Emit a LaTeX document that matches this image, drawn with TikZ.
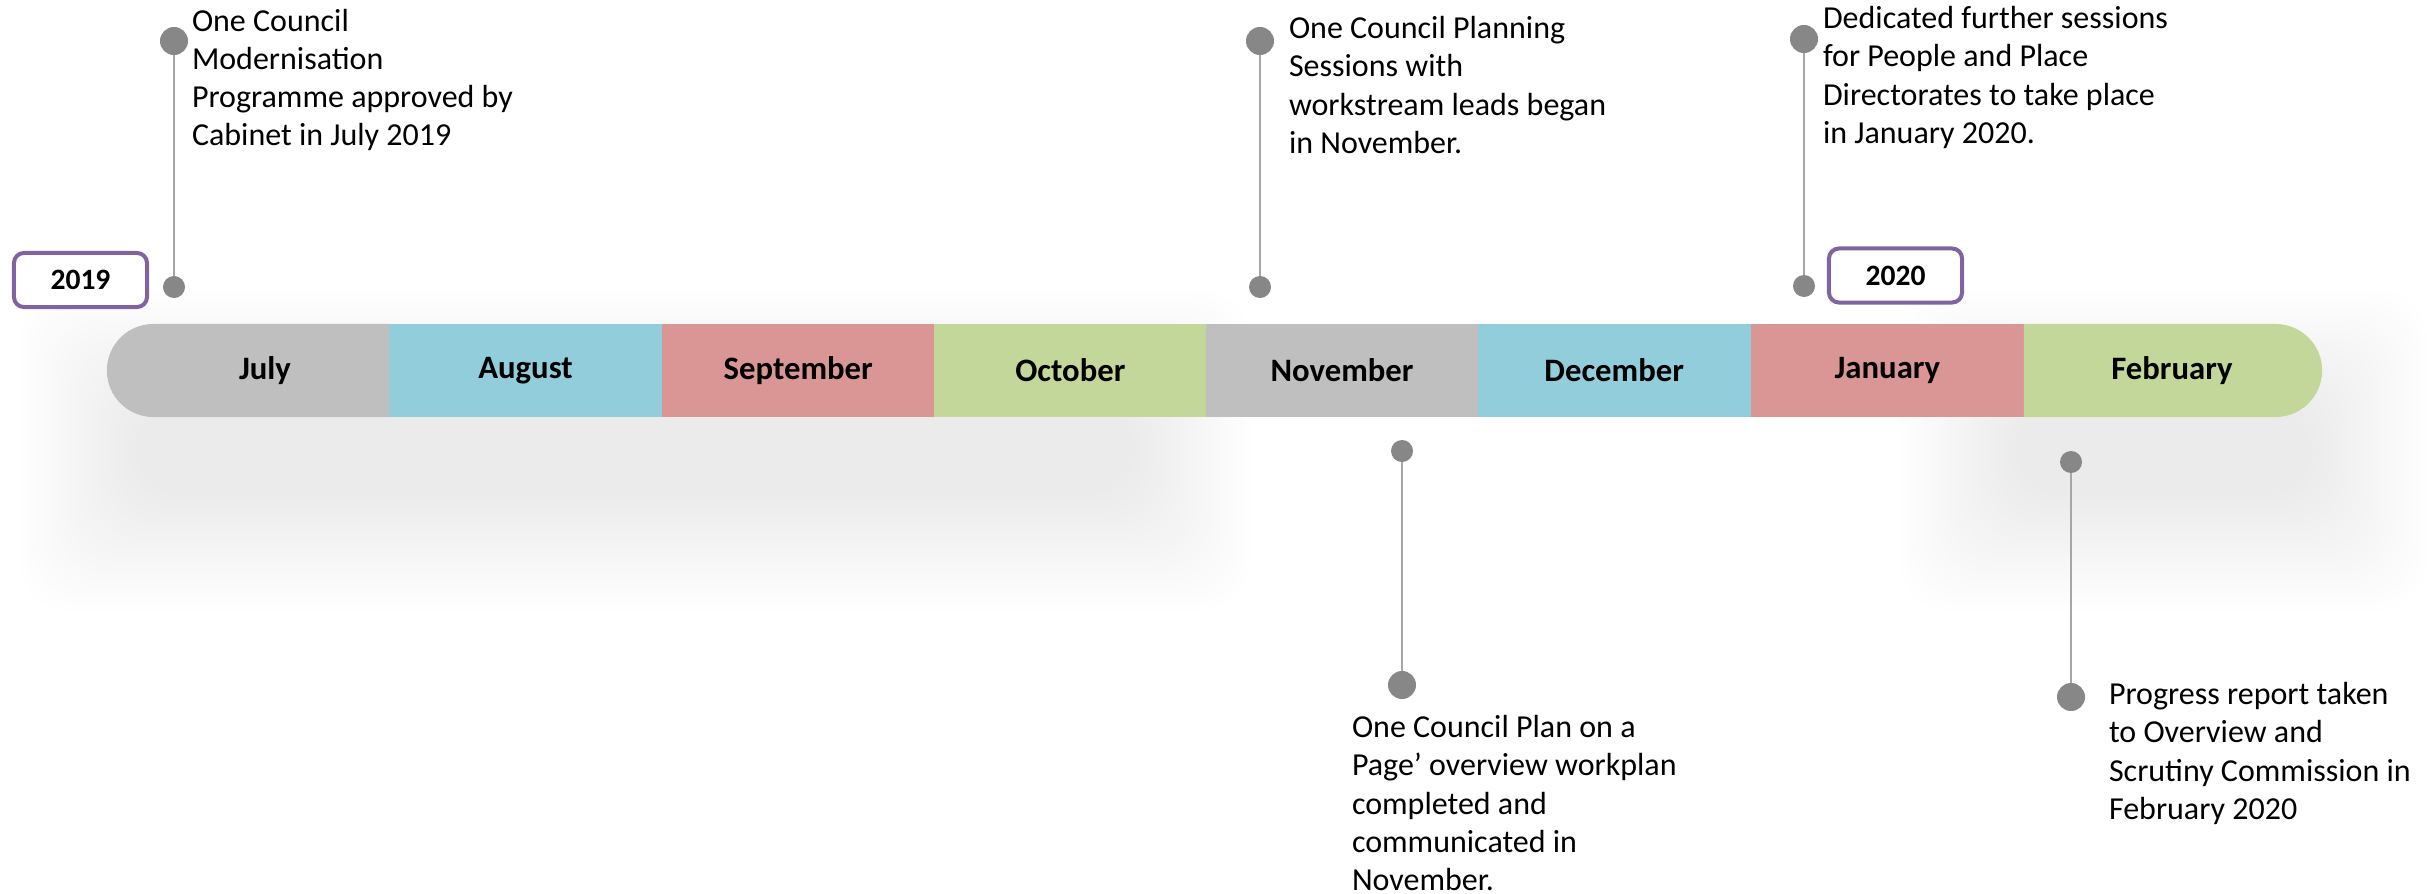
\documentclass[tikz,border=0pt]{standalone}
\usepackage{fontspec}
\setmainfont{Carlito}
\usetikzlibrary{shapes.misc}

\definecolor{bargray}{HTML}{BFBFBF}
\definecolor{barblue}{HTML}{92CDDC}
\definecolor{barred}{HTML}{DA9694}
\definecolor{bargreen}{HTML}{C4D79B}
\definecolor{yearpurple}{HTML}{8064A2}
\definecolor{dotgray}{HTML}{878787}
\definecolor{stemgray}{HTML}{A6A6A6}

\newcommand{\notefont}{\fontsize{9.1}{10.87}\selectfont}
\newcommand{\monthfont}{\fontsize{9.3}{11}\selectfont\bfseries}
\newcommand{\yearfont}{\fontsize{8.4}{10}\selectfont\bfseries}

\begin{document}
\begin{tikzpicture}[x=0.01cm,y=-0.01cm]
        \tikzstyle{every node}+=[inner sep=0pt, outer sep=0pt]
        \tikzstyle{month}=[rectangle, minimum width=2.73cm, minimum height=0.93cm, font=\monthfont]
        \tikzstyle{bigdot}=[circle, fill=dotgray, minimum size=0.28cm]
        \tikzstyle{smalldot}=[circle, fill=dotgray, minimum size=0.22cm]
        \tikzstyle{stem}=[stemgray, line width=0.02cm]
        \tikzstyle{note}=[anchor=north west, align=left, font=\notefont]
        \tikzstyle{yearbox}=[draw=yearpurple, fill=white, line width=0.04cm, rounded corners=0.1cm, minimum width=1.33cm, minimum height=0.54cm, font=\yearfont]
        \useasboundingbox (0,0) rectangle (2427,894);
        \foreach \i in {0,...,19} {
          \fill [black, opacity=0.005, rounded corners=0.5cm] ({20+6*\i},{290+6*\i}) rectangle ({1250-6*\i},{610-6*\i});
          \fill [black, opacity=0.005, rounded corners=0.5cm] ({1900+6*\i},{290+6*\i}) rectangle ({2427-6*\i},{610-6*\i});
        }
        \node [month, rounded rectangle, rounded rectangle right arc=none, minimum width=2.82cm, fill=bargray] (jul) at (249,370.5) {\hspace{0.32cm}July};
        \node [month, fill=barblue, anchor=west] (aug) at (jul.east) {August};
        \node [month, fill=barred, anchor=west, minimum width=2.72cm] (sep) at (aug.east) {September};
        \node [month, fill=bargreen, anchor=west, minimum width=2.72cm] (oct) at (sep.east) {October};
        \node [month, fill=bargray, anchor=west, minimum width=2.71cm] (nov) at (oct.east) {November};
        \node [month, fill=barblue, anchor=west] (dec) at (nov.east) {December};
        \node [month, fill=barred, anchor=west] (jan) at (dec.east) {January};
        \node [month, rounded rectangle, rounded rectangle left arc=none, minimum width=2.98cm, fill=bargreen, anchor=west] (feb) at (jan.east) {February\hspace{0.18cm}};
        \node [yearbox] (y2019) at (80.5,280) {2019};
        \node [yearbox] (y2020) at (1895.5,275.5) {2020};
        \node [bigdot] (jultop) at (174,41) {};
        \node [smalldot] (julbot) at (174,287) {};
        \draw [stem] (jultop) -- (julbot);
        \node [note] (jultxt) at (192,9) {One Council\\Modernisation\\Programme approved by\\Cabinet in July 2019};
        \node [bigdot] (novtop) at (1260,41) {};
        \node [smalldot] (novbot) at (1260,287) {};
        \draw [stem] (novtop) -- (novbot);
        \node [note] (novtxt) at (1289,16.5) {One Council Planning\\Sessions with\\workstream leads began\\in November.};
        \node [bigdot] (jantop) at (1804,39) {};
        \node [smalldot] (janbot) at (1804,286) {};
        \draw [stem] (jantop) -- (janbot);
        \node [note] (jantxt) at (1823,6.5) {Dedicated further sessions\\for People and Place\\Directorates to take place\\in January 2020.};
        \node [smalldot] (plantop) at (1402,451) {};
        \node [bigdot] (planbot) at (1402,685) {};
        \draw [stem] (plantop) -- (planbot);
        \node [note] (plantxt) at (1352,715.5) {One Council Plan on a\\Page' overview workplan\\completed and\\communicated in\\November.};
        \node [smalldot] (febtop) at (2071,462) {};
        \node [bigdot] (febbot) at (2071,697) {};
        \draw [stem] (febtop) -- (febbot);
        \node [note] (febtxt) at (2109,682.5) {Progress report taken\\to Overview and\\Scrutiny Commission in\\February 2020};
\end{tikzpicture}
\end{document}
